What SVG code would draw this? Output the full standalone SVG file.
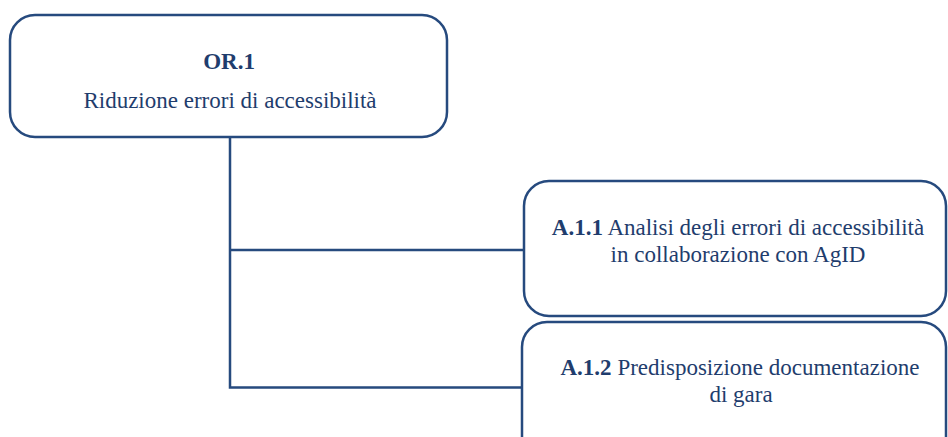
<svg xmlns="http://www.w3.org/2000/svg" width="948" height="437" viewBox="0 0 948 437">
<style>
.box{fill:#ffffff;stroke:#264a7e;stroke-width:2.5}
.ln{fill:none;stroke:#264a7e;stroke-width:2.5}
text{font-family:"Liberation Serif","Times New Roman",serif;fill:#1f3d6d;font-size:23px;text-anchor:middle}
.b{font-weight:bold}
</style>
<rect width="948" height="437" fill="#ffffff"/>
<g id="connectors">
<path class="ln" d="M230 137 V387.5 H525"/>
<path class="ln" d="M230 250 H523"/>
</g>
<g id="node-or1">
<rect class="box" x="10" y="15" width="437" height="122" rx="25" ry="25"/>
<text x="229" y="69" class="b">OR.1</text>
<text x="230" y="108">Riduzione errori di accessibilità</text>
</g>
<g id="node-a11">
<rect class="box" x="524" y="181" width="422" height="135" rx="25" ry="25"/>
<text x="738" y="235"><tspan class="b">A.1.1</tspan> Analisi degli errori di accessibilità</text>
<text x="738" y="262">in collaborazione con AgID</text>
</g>
<g id="node-a12">
<rect class="box" x="522" y="322" width="424" height="150" rx="25" ry="25"/>
<text x="740" y="375"><tspan class="b">A.1.2</tspan> Predisposizione documentazione</text>
<text x="741" y="402">di gara</text>
</g>
</svg>
